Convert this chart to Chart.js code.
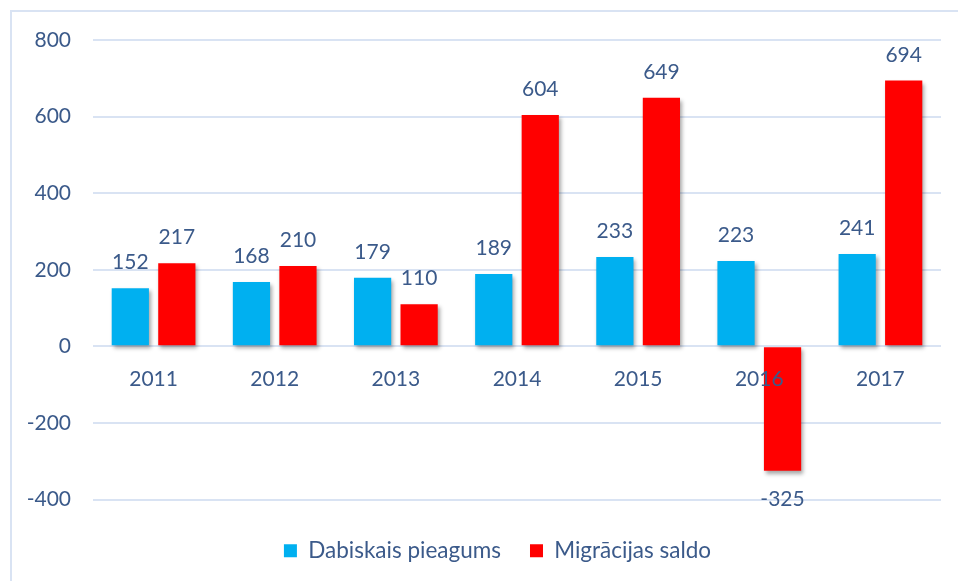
<!DOCTYPE html>
<html>
<head>
<meta charset="utf-8">
<script src="https://cdn.jsdelivr.net/npm/chart.js@4.4.1/dist/chart.umd.min.js"></script>
<style>
  html, body { margin: 0; padding: 0; background: #ffffff; }
  #wrap { width: 958px; height: 581px; position: relative; }
</style>
</head>
<body>
<div id="wrap"><canvas id="c" width="958" height="581"></canvas></div>
<script>
const years = ['2011', '2012', '2013', '2014', '2015', '2016', '2017'];
const naturalGrowth = [152, 168, 179, 189, 233, 223, 241];
const netMigration = [217, 210, 110, 604, 649, -325, 694];
const seriesNames = ['Dabiskais pieagums', 'Migrācijas saldo'];
const yTicks = [-400, -200, 0, 200, 400, 600, 800];

const textColor = '#3B5A8A';
const gridColor = '#D9E3F3';
const fontFamily = 'Lato, "Open Sans", sans-serif';

const frame = {
  id: 'frame',
  beforeDraw(chart) {
    const ctx = chart.ctx;
    ctx.save();
    ctx.fillStyle = '#ffffff';
    ctx.fillRect(0, 0, chart.width, chart.height);
    ctx.strokeStyle = gridColor;
    ctx.lineWidth = 2;
    ctx.strokeRect(11, 11, chart.width + 20, chart.height + 20);
    ctx.restore();
  }
};

const legendShift = {
  id: 'legendShift',
  afterLayout(chart) {
    const lg = chart.legend;
    if (!lg) return;
    const dx = 22, dy = 11;
    lg.left += dx; lg.right += dx;
    lg.top += dy; lg.bottom += dy;
  }
};

const shadow = {
  id: 'barShadow',
  beforeDatasetsDraw(chart) {
    const ctx = chart.ctx;
    ctx.save();
    ctx.shadowColor = 'rgba(0,0,0,0.35)';
    ctx.shadowBlur = 4;
    ctx.shadowOffsetX = 2;
    ctx.shadowOffsetY = 3;
  },
  afterDatasetsDraw(chart) {
    chart.ctx.restore();
  }
};

const valueLabels = {
  id: 'valueLabels',
  afterDatasetsDraw(chart) {
    const ctx = chart.ctx;
    ctx.save();
    ctx.fillStyle = textColor;
    ctx.font = '21px ' + fontFamily;
    ctx.textAlign = 'center';
    ctx.textBaseline = 'alphabetic';
    chart.data.datasets.forEach((ds, di) => {
      const meta = chart.getDatasetMeta(di);
      meta.data.forEach((bar, i) => {
        const v = ds.data[i];
        const p = bar.getProps(['x', 'y', 'base'], true);
        if (v >= 0) {
          ctx.fillText(String(v), p.x, p.y - 19);
        } else {
          ctx.fillText(String(v), p.x, p.y + 35);
        }
      });
    });
    ctx.restore();
  }
};

new Chart(document.getElementById('c'), {
  type: 'bar',
  data: {
    labels: years,
    datasets: [
      { label: seriesNames[0], data: naturalGrowth, backgroundColor: '#00B0F0', borderWidth: 0 },
      { label: seriesNames[1], data: netMigration, backgroundColor: '#FF0000', borderWidth: 0 }
    ]
  },
  options: {
    responsive: false,
    animation: false,
    devicePixelRatio: 1,
    layout: { padding: { left: 10, right: 17, top: 40, bottom: 20 } },
    datasets: { bar: { categoryPercentage: 0.768, barPercentage: 0.8 } },
    plugins: {
      tooltip: { enabled: false },
      legend: {
        position: 'bottom',
        labels: {
          color: textColor,
          font: { family: fontFamily, size: 22.5 },
          boxWidth: 13,
          boxHeight: 13,
          padding: 29
        }
      }
    },
    scales: {
      x: {
        position: { y: 0 },
        grid: { display: false },
        border: { display: false },
        ticks: { z: 1, color: textColor, font: { family: fontFamily, size: 21 }, padding: 12 }
      },
      y: {
        min: -400,
        max: 800,
        afterFit(scale) { scale.width = 83; },
        afterBuildTicks(scale) { scale.ticks = yTicks.map(v => ({ value: v })); },
        grid: { color: gridColor, lineWidth: 2, drawTicks: false },
        border: { display: false },
        ticks: { color: textColor, font: { family: fontFamily, size: 21 }, padding: 22 }
      }
    }
  },
  plugins: [frame, legendShift, shadow, valueLabels]
});
</script>
</body>
</html>
